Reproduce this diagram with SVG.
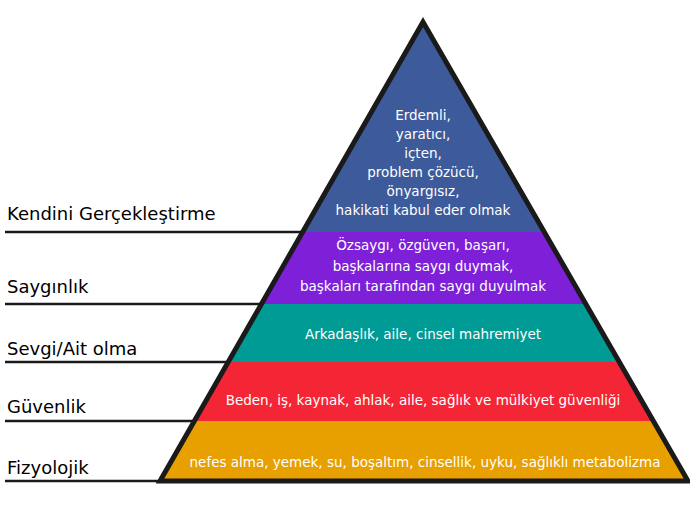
<svg xmlns="http://www.w3.org/2000/svg" width="690" height="518" viewBox="0 0 690 518">
<style>
.l{font-family:"DejaVu Sans",sans-serif;font-size:18px;fill:#000}
.t{font-family:"DejaVu Sans",sans-serif;font-size:13.5px;fill:#fff;text-anchor:middle}
.sep{stroke:#1a1a1a;stroke-width:2.5;fill:none}
</style>
<rect width="690" height="518" fill="#fff"/>
<g id="connectors">
<line class="sep" x1="5" y1="232" x2="544" y2="232"/>
<line class="sep" x1="5" y1="304" x2="585" y2="304"/>
<line class="sep" x1="5" y1="362" x2="619" y2="362"/>
<line class="sep" x1="5" y1="421" x2="653" y2="421"/>
<line class="sep" x1="5" y1="481" x2="688" y2="481"/>
</g>
<g id="level5"><polygon points="423,22 303,232 544,232" fill="#3d5a9b"/>
<text class="t" x="423" y="120">Erdemli,</text><text class="t" x="423" y="139">yaratıcı,</text><text class="t" x="423" y="158">içten,</text><text class="t" x="423" y="177">problem çözücü,</text><text class="t" x="423" y="196">önyargısız,</text><text class="t" x="423" y="215">hakikati kabul eder olmak</text>
<text class="l" x="7" y="220">Kendini Gerçekleştirme</text></g>
<g id="level4"><polygon points="303,232 544,232 585,304 262,304" fill="#7e20d8"/>
<text class="t" x="423" y="250">Özsaygı, özgüven, başarı,</text><text class="t" x="423" y="271">başkalarına saygı duymak,</text><text class="t" x="423" y="291">başkaları tarafından saygı duyulmak</text>
<text class="l" x="7" y="293">Saygınlık</text></g>
<g id="level3"><polygon points="262,304 585,304 619,362 228,362" fill="#009b94"/>
<text class="t" x="423" y="339">Arkadaşlık, aile, cinsel mahremiyet</text>
<text class="l" x="7" y="355">Sevgi/Ait olma</text></g>
<g id="level2"><polygon points="228,362 619,362 653,421 195,421" fill="#f42635"/>
<text class="t" x="423" y="405">Beden, iş, kaynak, ahlak, aile, sağlık ve mülkiyet güvenliği</text>
<text class="l" x="7" y="413">Güvenlik</text></g>
<g id="level1"><polygon points="195,421 653,421 688,481 160,481" fill="#e89f00"/>
<text class="t" x="425" y="467">nefes alma, yemek, su, boşaltım, cinsellik, uyku, sağlıklı metabolizma</text>
<text class="l" x="7" y="474">Fizyolojik</text></g>
<polygon points="423,22 160,481 688,481" fill="none" stroke="#1a1a1a" stroke-width="5" stroke-linejoin="miter"/>
</svg>
